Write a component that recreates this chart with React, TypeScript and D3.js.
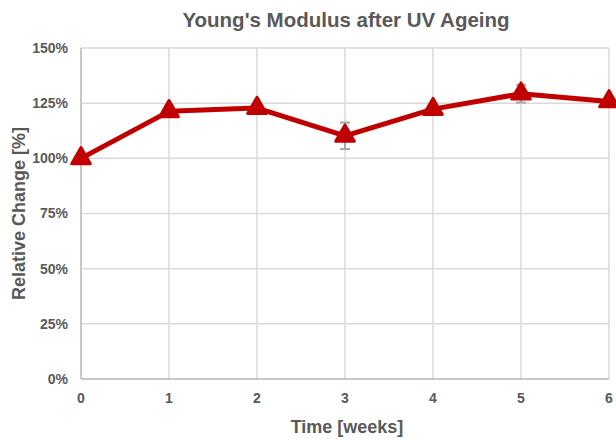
import React, { useRef, useEffect } from "react";
import * as d3 from "d3";

const weeks = [0, 1, 2, 3, 4, 5, 6];
const relChange = [100, 121.3, 122.8, 110.2, 122.3, 129.3, 125.8];
const errors = [0, 2.5, 1.5, 6, 1.8, 4, 2];
const yTicks = [0, 25, 50, 75, 100, 125, 150];

const App = () => {
  const svgRef = useRef<SVGSVGElement>(null);

  useEffect(() => {
    const W = 616;
    const H = 439;
    const margin = { top: 48, right: 7, bottom: 60, left: 81 };
    const height = H - margin.top - margin.bottom;
    const font = "'Liberation Sans', Arial, sans-serif";
    const textCol = "#595959";

    const svg = d3.select(svgRef.current);
    svg.selectAll("*").remove();
    svg.attr("width", W).attr("height", H);

    const g = svg.append("g").attr("transform", `translate(${margin.left},${margin.top})`);

    const x = d3.scaleLinear().domain([0, 6]).range([0, 528]);
    const y = d3.scaleLinear().domain([0, 150]).range([height, 0]);

    // grid
    g.selectAll(".hgrid")
      .data(yTicks)
      .enter()
      .append("line")
      .attr("x1", 0)
      .attr("x2", x(6))
      .attr("y1", (d) => y(d))
      .attr("y2", (d) => y(d))
      .attr("stroke", "#d9d9d9")
      .attr("stroke-width", 1.5);

    g.selectAll(".vgrid")
      .data(weeks)
      .enter()
      .append("line")
      .attr("x1", (d) => x(d))
      .attr("x2", (d) => x(d))
      .attr("y1", 0)
      .attr("y2", height)
      .attr("stroke", "#d9d9d9")
      .attr("stroke-width", 1.5);

    // axis lines
    g.append("line").attr("x1", 0).attr("x2", 0).attr("y1", 0).attr("y2", height)
      .attr("stroke", "#bfbfbf").attr("stroke-width", 1.5);
    g.append("line").attr("x1", 0).attr("x2", x(6)).attr("y1", height).attr("y2", height)
      .attr("stroke", "#bfbfbf").attr("stroke-width", 1.5);

    // tick labels
    g.selectAll(".ylab")
      .data(yTicks)
      .enter()
      .append("text")
      .attr("x", -13)
      .attr("y", (d) => y(d))
      .attr("dy", "0.35em")
      .attr("text-anchor", "end")
      .attr("font-family", font)
      .attr("font-weight", "bold")
      .attr("font-size", 14)
      .attr("fill", textCol)
      .text((d) => `${d}%`);

    g.selectAll(".xlab")
      .data(weeks)
      .enter()
      .append("text")
      .attr("x", (d) => x(d))
      .attr("y", height + 24)
      .attr("text-anchor", "middle")
      .attr("font-family", font)
      .attr("font-weight", "bold")
      .attr("font-size", 14)
      .attr("fill", textCol)
      .text((d) => d);

    const data = weeks.map((w, i) => ({ w, v: relChange[i], e: errors[i] }));

    // error bars
    const eb = g.selectAll(".err").data(data.filter((d) => d.e > 0)).enter().append("g");
    eb.append("line")
      .attr("x1", (d) => x(d.w)).attr("x2", (d) => x(d.w))
      .attr("y1", (d) => y(d.v - d.e)).attr("y2", (d) => y(d.v + d.e))
      .attr("stroke", "#a6a6a6").attr("stroke-width", 2);
    [-1, 1].forEach((s) => {
      eb.append("line")
        .attr("x1", (d) => x(d.w) - 5).attr("x2", (d) => x(d.w) + 5)
        .attr("y1", (d) => y(d.v + s * d.e)).attr("y2", (d) => y(d.v + s * d.e))
        .attr("stroke", "#a6a6a6").attr("stroke-width", 2);
    });

    // line
    const line = d3.line<{ w: number; v: number }>().x((d) => x(d.w)).y((d) => y(d.v));
    g.append("path")
      .datum(data)
      .attr("d", line)
      .attr("fill", "none")
      .attr("stroke", "#c00000")
      .attr("stroke-width", 5)
      .attr("stroke-linejoin", "round");

    // markers
    const tri = d3.symbol().type(d3.symbolTriangle).size(150);
    g.selectAll(".mk")
      .data(data)
      .enter()
      .append("path")
      .attr("d", tri)
      .attr("transform", (d) => `translate(${x(d.w)},${y(d.v)})`)
      .attr("fill", "#c00000")
      .attr("stroke", "#c00000")
      .attr("stroke-width", 3)
      .attr("stroke-linejoin", "round");

    // titles
    svg.append("text")
      .attr("x", 346)
      .attr("y", 27)
      .attr("text-anchor", "middle")
      .attr("font-family", font)
      .attr("font-weight", "bold")
      .attr("font-size", 20.5)
      .attr("fill", textCol)
      .text("Young's Modulus after UV Ageing");

    svg.append("text")
      .attr("x", 347)
      .attr("y", 433)
      .attr("text-anchor", "middle")
      .attr("font-family", font)
      .attr("font-weight", "bold")
      .attr("font-size", 18)
      .attr("fill", textCol)
      .text("Time [weeks]");

    svg.append("text")
      .attr("transform", `translate(25,${margin.top + height / 2}) rotate(-90)`)
      .attr("text-anchor", "middle")
      .attr("font-family", font)
      .attr("font-weight", "bold")
      .attr("font-size", 18)
      .attr("fill", textCol)
      .text("Relative Change [%]");
  }, []);

  return <svg ref={svgRef} style={{ position: "absolute", left: 0, top: 0 }}></svg>;
};

export default App;
